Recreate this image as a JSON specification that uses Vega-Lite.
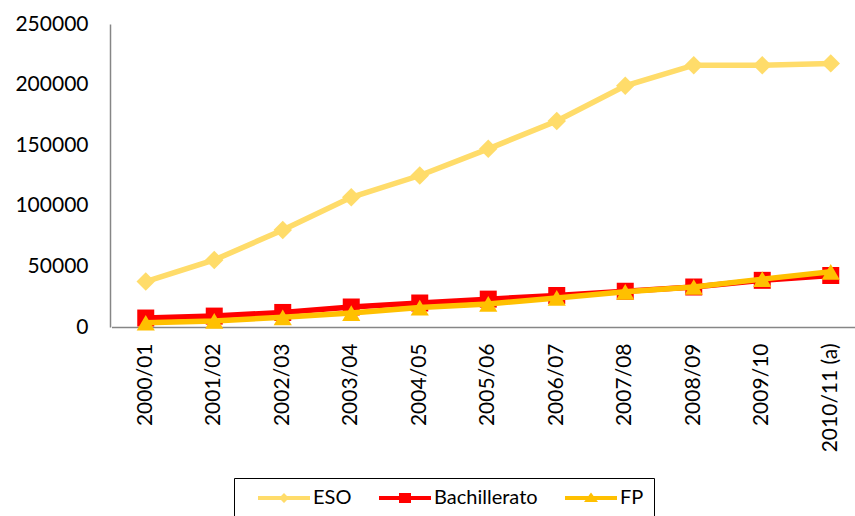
{
  "$schema": "https://vega.github.io/schema/vega-lite/v6.json",
  "width": 745,
  "height": 303,
  "autosize": {"type": "none"},
  "padding": {"left": 110, "top": 24, "right": 0, "bottom": 189},
  "background": "white",
  "config": {
    "view": {"stroke": null},
    "font": "Lato",
    "axis": {"labelFont": "Lato", "labelColor": "black", "domainColor": "#868686", "domainWidth": 1.5, "grid": false, "ticks": false, "tickSize": 0, "title": null}
  },
  "data": {
    "values": [
      {"curso": "2000/01", "serie": "ESO", "valor": 37500},
      {"curso": "2001/02", "serie": "ESO", "valor": 55300},
      {"curso": "2002/03", "serie": "ESO", "valor": 80000},
      {"curso": "2003/04", "serie": "ESO", "valor": 107000},
      {"curso": "2004/05", "serie": "ESO", "valor": 125000},
      {"curso": "2005/06", "serie": "ESO", "valor": 147000},
      {"curso": "2006/07", "serie": "ESO", "valor": 170000},
      {"curso": "2007/08", "serie": "ESO", "valor": 199000},
      {"curso": "2008/09", "serie": "ESO", "valor": 216000},
      {"curso": "2009/10", "serie": "ESO", "valor": 216000},
      {"curso": "2010/11 (a)", "serie": "ESO", "valor": 217500},
      {"curso": "2000/01", "serie": "Bachillerato", "valor": 7400},
      {"curso": "2001/02", "serie": "Bachillerato", "valor": 9000},
      {"curso": "2002/03", "serie": "Bachillerato", "valor": 12000},
      {"curso": "2003/04", "serie": "Bachillerato", "valor": 16500},
      {"curso": "2004/05", "serie": "Bachillerato", "valor": 19800},
      {"curso": "2005/06", "serie": "Bachillerato", "valor": 23000},
      {"curso": "2006/07", "serie": "Bachillerato", "valor": 26000},
      {"curso": "2007/08", "serie": "Bachillerato", "valor": 29500},
      {"curso": "2008/09", "serie": "Bachillerato", "valor": 33000},
      {"curso": "2009/10", "serie": "Bachillerato", "valor": 38500},
      {"curso": "2010/11 (a)", "serie": "Bachillerato", "valor": 42500},
      {"curso": "2000/01", "serie": "FP", "valor": 3500},
      {"curso": "2001/02", "serie": "FP", "valor": 5000},
      {"curso": "2002/03", "serie": "FP", "valor": 8000},
      {"curso": "2003/04", "serie": "FP", "valor": 11500},
      {"curso": "2004/05", "serie": "FP", "valor": 16000},
      {"curso": "2005/06", "serie": "FP", "valor": 19000},
      {"curso": "2006/07", "serie": "FP", "valor": 24000},
      {"curso": "2007/08", "serie": "FP", "valor": 29000},
      {"curso": "2008/09", "serie": "FP", "valor": 33000},
      {"curso": "2009/10", "serie": "FP", "valor": 39500},
      {"curso": "2010/11 (a)", "serie": "FP", "valor": 45500}
    ]
  },
  "encoding": {
    "x": {
      "field": "curso", "type": "ordinal",
      "scale": {"type": "band", "range": [1.5, 755], "paddingInner": 0, "paddingOuter": 0},
      "axis": {"labelAngle": -90, "labelAlign": "right", "labelBaseline": "middle", "labelFontSize": 21, "labelPadding": 16}
    },
    "y": {
      "field": "valor", "type": "quantitative",
      "scale": {"domain": [0, 250000], "nice": false},
      "axis": {"values": [0, 50000, 100000, 150000, 200000, 250000], "format": "d", "labelFontSize": 21, "labelPadding": 22}
    }
  },
  "layer": [
    {"transform": [{"filter": "datum.serie === 'ESO'"}], "mark": {"type": "line", "color": "#FFDC6A", "strokeWidth": 5.5}},
    {"transform": [{"filter": "datum.serie === 'ESO'"}], "mark": {"type": "point", "shape": "diamond", "filled": true, "opacity": 1, "color": "#FFDC6A", "size": 340}},
    {"transform": [{"filter": "datum.serie === 'Bachillerato'"}], "mark": {"type": "line", "color": "#FF0000", "strokeWidth": 5.5}},
    {"transform": [{"filter": "datum.serie === 'Bachillerato'"}], "mark": {"type": "point", "shape": "square", "filled": true, "opacity": 1, "color": "#FF0000", "size": 289}},
    {"transform": [{"filter": "datum.serie === 'FP'"}], "mark": {"type": "line", "color": "#FFC000", "strokeWidth": 5.5}},
    {"transform": [{"filter": "datum.serie === 'FP'"}], "mark": {"type": "point", "shape": "triangle-up", "filled": true, "opacity": 1, "color": "#FFC000", "size": 330}},
    {
      "mark": {"type": "point", "filled": true, "opacity": 0},
      "encoding": {
        "color": {
          "field": "serie", "type": "nominal",
          "scale": {"domain": ["ESO", "Bachillerato", "FP"], "range": ["#FFDC6A", "#FF0000", "#FFC000"]},
          "legend": {
            "orient": "none", "legendX": 124, "legendY": 454, "direction": "horizontal",
            "title": null, "strokeColor": "black", "padding": 10,
            "symbolSize": 100, "symbolOpacity": 1, "symbolStrokeWidth": 0,
            "symbolOffset": 30, "labelOffset": 19, "columnPadding": 13,
            "labelFont": "Lato", "labelFontSize": 20, "labelColor": "black"
          }
        },
        "shape": {
          "field": "serie", "type": "nominal",
          "scale": {"domain": ["ESO", "Bachillerato", "FP"], "range": [
            "M-5.2,-0.4 L-0.6,-0.4 L0,-1 L0.6,-0.4 L5.2,-0.4 L5.2,0.4 L0.6,0.4 L0,1 L-0.6,0.4 L-5.2,0.4 Z",
            "M-5.2,-0.4 L-1.2,-0.4 L-1.2,-1 L1.2,-1 L1.2,-0.4 L5.2,-0.4 L5.2,0.4 L1.2,0.4 L1.2,1 L-1.2,1 L-1.2,0.4 L-5.2,0.4 Z",
            "M-5.2,-0.4 L-0.51,-0.4 L0,-1.1 L0.51,-0.4 L5.2,-0.4 L5.2,0.4 L1.1,0.4 L1.4,0.8 L-1.4,0.8 L-1.1,0.4 L-5.2,0.4 Z"
          ]},
          "legend": {
            "orient": "none", "legendX": 124, "legendY": 454, "direction": "horizontal",
            "title": null, "strokeColor": "black", "padding": 10,
            "symbolSize": 100, "symbolOpacity": 1, "symbolStrokeWidth": 0,
            "symbolOffset": 30, "labelOffset": 19, "columnPadding": 13,
            "labelFont": "Lato", "labelFontSize": 20, "labelColor": "black"
          }
        }
      }
    }
  ]
}
